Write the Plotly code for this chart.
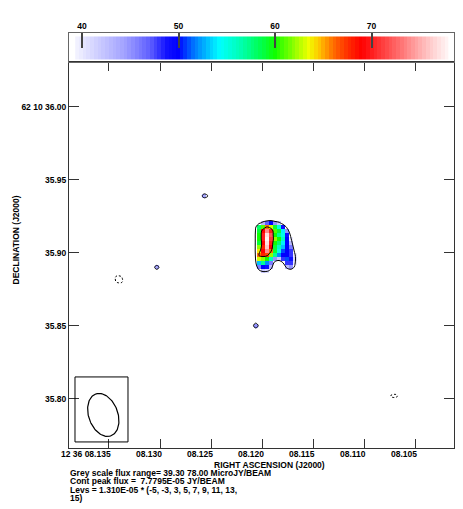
import numpy as np
import plotly.graph_objects as go

# Map window: RA in seconds past 12h36m, Dec in arcsec past +62d10'
ra_range = [8.13892, 8.10118]
dec_range = [35.7664, 36.0308]
ra_ticks = [8.135, 8.130, 8.125, 8.120, 8.115, 8.110, 8.105]
ra_ticklabels = ["12 36 08.135", "08.130", "08.125", "08.120", "08.115", "08.110", "08.105"]
dec_ticks = [36.00, 35.95, 35.90, 35.85, 35.80]
dec_ticklabels = ["62 10 36.00", "35.95", "35.90", "35.85", "35.80"]

# Grey scale / contour settings (microJy/beam)
grey_min, grey_max = 39.30, 78.00
rms = 13.10
wedge_ticks = [40, 50, 60, 70]

# map cell size
cell_ra = 0.000392   # s
cell_dec = 0.00274   # arcsec

# main source, first column / row centres
blob_ra0 = 8.121470
blob_dec0 = 35.92329
blob = np.array([
    [25, 25, 25, 27, 30, 32, 32, 30, 27, 25, 25, 25, 25, 25],
    [25, 25, 28, 36, 43, 47, 50, 45, 42, 34, 27, 25, 25, 25],
    [25, 27, 34, 58, 61, 66, 63, 59, 55, 49, 37, 27, 25, 25],
    [26, 30, 37, 59, 69, 74, 70, 61, 59, 54, 45, 32, 26, 25],
    [27, 31, 38, 60, 70, 77, 72, 60, 57, 55, 49, 37, 27, 25],
    [28, 32, 38, 60, 70, 77.8, 71, 62, 60, 56, 50, 40, 29, 25],
    [28, 32, 38, 59, 69, 77, 70, 60, 58, 54, 50, 43, 31, 25],
    [28, 32, 38, 62, 68, 76, 69, 59, 56, 53, 50, 46, 34, 26],
    [28, 32, 38, 64, 69, 74, 66, 59, 55, 51, 50, 48, 37, 27],
    [27, 31, 37, 66, 68, 67, 62, 57, 52, 50, 50, 48, 40, 28],
    [26, 30, 36, 63, 62, 60, 56, 45, 42, 48, 51, 49, 41, 28],
    [25, 28, 35, 53, 57, 52, 46, 36, 35, 39, 48, 48, 40, 27],
    [25, 26, 32, 46, 50, 49, 43, 31, 28, 31, 43, 45, 38, 26],
    [25, 25, 28, 37, 42, 41, 36, 27, 25, 26, 32, 35, 31, 25],
    [25, 25, 25, 25, 25, 25, 25, 25, 25, 25, 25, 25, 25, 25],
])

# isolated weak spots (centre ra, dec and 3x3 cells)
spot1_pos = (8.125657, 35.93904)
spot1 = [[33, 35, 33], [35, 44, 39], [32, 34, 33]]
spot2_pos = (8.130324, 35.89020)
spot2 = [[32, 34, 33], [35, 44, 36], [33, 35, 32]]
spot3_pos = (8.120618, 35.85020)
spot3 = [[33, 36, 33], [35, 45, 36], [33, 35, 33]]

# negative noise peaks
neg1_pos = (8.134020, 35.88198)
neg1 = [[-28, -31, -30, -27], [-32, -44, -42, -30], [-31, -43, -45, -31], [-27, -30, -31, -28]]
neg2_pos = (8.107059, 35.80205)
neg2 = [[-29, -31, -31, -28], [-33, -43, -44, -32], [-28, -31, -30, -27]]

# restoring beam
beam_pos = (8.135559, 35.78904)
beam_major, beam_minor, beam_pa = 0.0305, 0.0200, 20.0   # arcsec, arcsec, deg
beam_box_ra = [8.138333, 8.133137]
beam_box_dec = [35.77055, 35.81507]

colorscale_pts = [
    (39.3, "#f4f4ff"), (41.5, "#d0d0ff"), (44.5, "#a0a0ff"), (47.0, "#6060ff"),
    (48.8, "#1010ff"), (50.0, "#0000ff"), (51.5, "#0070ff"), (53.0, "#00c0ff"),
    (54.3, "#00ffff"), (56.5, "#00ffb0"), (58.5, "#00ff50"), (60.0, "#10ff00"),
    (62.0, "#90ff00"), (63.5, "#f0ff00"), (64.7, "#ffc000"), (66.0, "#ff7000"),
    (67.5, "#ff3000"), (69.0, "#ff0000"), (71.0, "#ff3838"), (73.5, "#ff8080"),
    (76.0, "#ffc8c8"), (78.0, "#fff8f8"),
]
cscale = [[(v - grey_min) / (grey_max - grey_min), c] for v, c in colorscale_pts]

FONT = "Liberation Sans, Arial, sans-serif"
fnt = dict(family=FONT, size=8.5, color="black", weight="bold")


def patch_coords(pos, z):
    z = np.asarray(z, dtype=float)
    ny, nx = z.shape
    xs = pos[0] - (np.arange(nx) - (nx - 1) / 2) * cell_ra
    ys = pos[1] - (np.arange(ny) - (ny - 1) / 2) * cell_dec
    return xs, ys, z


fig = go.Figure()

patches = [
    (blob_ra0 - cell_ra * np.arange(blob.shape[1]),
     blob_dec0 - cell_dec * np.arange(blob.shape[0]), blob.astype(float)),
    patch_coords(spot1_pos, spot1),
    patch_coords(spot2_pos, spot2),
    patch_coords(spot3_pos, spot3),
]

for xs, ys, z in patches:
    masked = np.where(z >= grey_min, z, np.nan)
    fig.add_trace(go.Heatmap(
        x=xs, y=ys, z=masked, colorscale=cscale, zmin=grey_min, zmax=grey_max,
        showscale=False, hoverinfo="skip"
    ))
    fig.add_trace(go.Contour(
        x=xs, y=ys, z=z, autocontour=False,
        contours=dict(start=3 * rms, end=15 * rms, size=2 * rms, coloring="none"),
        line=dict(color="black", width=1, smoothing=1),
        showscale=False, hoverinfo="skip"
    ))

for pos, z in [(neg1_pos, neg1), (neg2_pos, neg2)]:
    xs, ys, z = patch_coords(pos, z)
    fig.add_trace(go.Contour(
        x=xs, y=ys, z=z, autocontour=False,
        contours=dict(start=-5 * rms, end=-3 * rms, size=2 * rms, coloring="none"),
        line=dict(color="black", width=1, dash="2px,2px", smoothing=1),
        showscale=False, hoverinfo="skip"
    ))

# beam ellipse
t = np.linspace(0, 2 * np.pi, 120)
pa = np.radians(beam_pa)
u = beam_major / 2 * np.cos(t)
v = beam_minor / 2 * np.sin(t)
east = u * np.sin(pa) + v * np.cos(pa)
north = u * np.cos(pa) - v * np.sin(pa)
arcsec_to_ras = 1.0 / (15 * np.cos(np.radians(62 + 10 / 60)))
fig.add_trace(go.Scatter(
    x=beam_pos[0] + east * arcsec_to_ras, y=beam_pos[1] + north,
    mode="lines", line=dict(color="black", width=1.2), showlegend=False, hoverinfo="skip"
))
fig.add_shape(type="rect", xref="x", yref="y",
              x0=beam_box_ra[0], x1=beam_box_ra[1], y0=beam_box_dec[0], y1=beam_box_dec[1],
              line=dict(color="black", width=1))

# wedge
wedge_edges = np.linspace(grey_min, grey_max, 101)
wedge_vals = (wedge_edges[:-1] + wedge_edges[1:]) / 2
fig.add_trace(go.Heatmap(
    x=wedge_edges, y=[0.07, 0.88], z=[wedge_vals], xaxis="x2", yaxis="y2",
    colorscale=cscale, zmin=grey_min, zmax=grey_max, showscale=False, hoverinfo="skip"
))

main_top = 386 / 415

# the page body has an 8px margin, so the figure is shrunk by that much
fig.update_layout(
    width=455, height=501,
    margin=dict(l=61, r=9, t=25, b=61),
    paper_bgcolor="white", plot_bgcolor="white",
    showlegend=False,
    xaxis=dict(range=ra_range, domain=[0, 1], anchor="y", tickvals=ra_ticks,
               showticklabels=False, ticks="inside", ticklen=9, tickcolor="#333",
               tickwidth=1.2, showline=True, mirror="ticks", linecolor="#333",
               linewidth=1, showgrid=False, zeroline=False, automargin=False,
               layer="above traces"),
    yaxis=dict(range=dec_range, domain=[0, main_top], anchor="x", tickvals=dec_ticks,
               ticktext=dec_ticklabels, tickfont=fnt, ticks="inside", ticklen=10,
               tickcolor="#333", tickwidth=1.2, showline=True, mirror="ticks",
               linecolor="#333", linewidth=1, showgrid=False, zeroline=False,
               automargin=False, layer="above traces"),
    xaxis2=dict(range=[38.65, 78.55], domain=[0, 1], anchor="y2", side="top",
                tickvals=wedge_ticks, tickfont=fnt, ticks="inside", ticklen=15,
                tickcolor="#444", tickwidth=1.5, showline=True, mirror=True,
                linecolor="#666", linewidth=1, showgrid=False, zeroline=False,
                automargin=False, layer="above traces"),
    yaxis2=dict(range=[0, 1], domain=[main_top, 1], anchor="x2", showticklabels=False,
                ticks="", showline=True, mirror=True, linecolor="#666", linewidth=1,
                showgrid=False, zeroline=False, automargin=False),
)

for val, lab in zip(ra_ticks, ra_ticklabels):
    fig.add_annotation(x=val, y=0, xref="x", yref="paper", text=lab, showarrow=False,
                       xanchor="right", yanchor="top", xshift=3, yshift=0,
                       borderpad=0, font=fnt)

fig.add_annotation(x=0.522, y=0, xref="paper", yref="paper", text="RIGHT ASCENSION (J2000)",
                   showarrow=False, xanchor="center", yanchor="middle", yshift=-16.5,
                   borderpad=0, font=fnt)
fig.add_annotation(x=0, y=0.5, xref="paper", yref="paper", text="DECLINATION (J2000)",
                   textangle=-90, showarrow=False, xanchor="center", yanchor="middle",
                   xshift=-54, font=fnt)

notes = [
    "Grey scale flux range= 39.30 78.00 MicroJY/BEAM",
    "Cont peak flux =  7.7795E-05 JY/BEAM",
    "Levs = 1.310E-05 * (-5, -3, 3, 5, 7, 9, 11, 13,",
    "15)",
]
for i, line in enumerate(notes):
    fig.add_annotation(x=0, y=0, xref="paper", yref="paper", text=line, showarrow=False,
                       xanchor="left", yanchor="middle", yshift=-24.5 - 8.6 * i,
                       borderpad=0, font=fnt)

fig.write_html("out.html")
